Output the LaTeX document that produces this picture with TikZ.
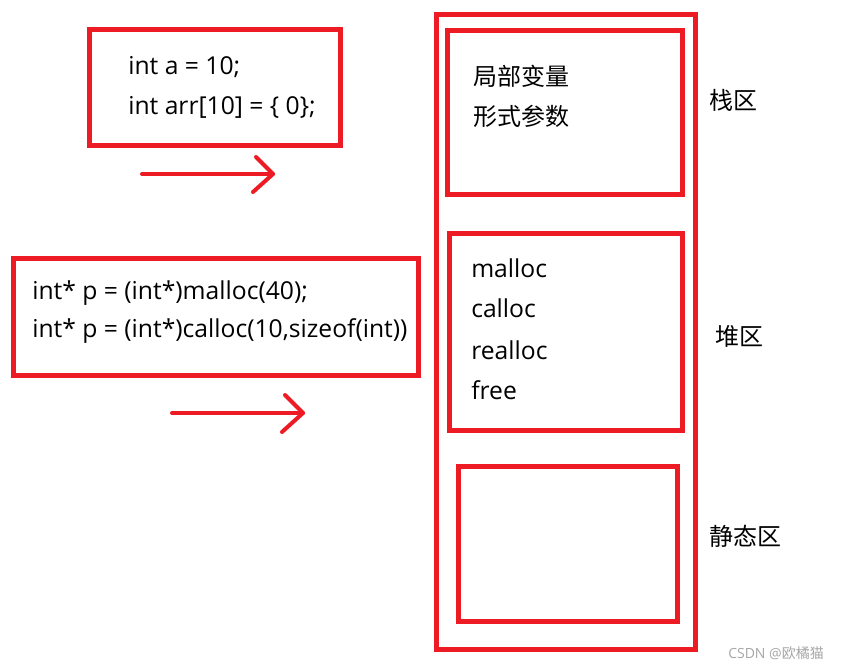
\documentclass[tikz,border=0pt]{standalone}
\usepackage{fontspec}
\setmainfont{Open Sans}
\newfontfamily\cjk{Noto Sans CJK SC}
\usepackage{tikz}
\usetikzlibrary{positioning, calc}

\definecolor{paintred}{RGB}{237,28,36}

\tikzset{
  regionbox/.style={draw=paintred, line width=3.75pt, inner sep=0pt},
  codetext/.style={anchor=base west, inner sep=0pt, font=\fontsize{18.5}{22}\selectfont},
  cjktext/.style={anchor=base west, inner sep=0pt, font=\cjk\fontsize{18}{22}\selectfont},
  arrowline/.style={draw=paintred, line width=3pt, line cap=round, line join=round}
}

\begin{document}
\begin{tikzpicture}[x=0.75pt, y=-0.75pt]
  \useasboundingbox (0,0) rectangle (843,670);

  % Memory regions
  \node[regionbox, minimum width=194.25pt, minimum height=475.9pt] (memory) at (566,331.75) {};
  \node[regionbox, minimum width=176.25pt, minimum height=123pt] (stack) at (565,113) {};
  \node[regionbox, minimum width=175.1pt, minimum height=147pt] (heap) at (565.75,332) {};
  \node[regionbox, minimum width=164.25pt, minimum height=116.6pt] (static) at (568,544.25) {};

  % Code boxes
  \node[regionbox, minimum width=187.9pt, minimum height=87pt] (localcode) at (215.25,88) {};
  \node[regionbox, minimum width=304.1pt, minimum height=88.1pt] (heapcode) at (216.25,317.25) {};

  % Code lines
  \node[codetext] (codea) at (128,75) {int a = 10;};
  \node[codetext] (codearr) at (128,115) {int arr[10] = \{ 0\};};
  \node[codetext] (codemalloc) at (32,300) {int* p = (int*)malloc(40);};
  \node[codetext] (codecalloc) at (32,338) {int* p = (int*)calloc(10,sizeof(int))};

  % Stack contents
  \node[cjktext] (localvar) at (473,85.5) {局部变量};
  \node[cjktext] (params) at (473,125.5) {形式参数};

  % Heap contents
  \node[codetext] (fmalloc) at (471,278) {malloc};
  \node[codetext] (fcalloc) at (471,318) {calloc};
  \node[codetext] (frealloc) at (471,359) {realloc};
  \node[codetext] (ffree) at (471,400) {free};

  % Region labels
  \node[cjktext] (stacklabel) at (709,110) {栈区};
  \node[cjktext] (heaplabel) at (715,346) {堆区};
  \node[cjktext] (staticlabel) at (709,545) {静态区};

  % Arrows
  \coordinate (a1start) at (142,174);
  \coordinate (a1end) at (273,174);
  \coordinate (a2start) at (172,413);
  \coordinate (a2end) at (303,413);
  \draw[arrowline] (a1start) -- (a1end);
  \draw[arrowline] ($(a1end)+(-17,-17)$) -- (a1end) -- ($(a1end)+(-20,18)$);
  \draw[arrowline] (a2start) -- (a2end);
  \draw[arrowline] ($(a2end)+(-18,-18)$) -- (a2end) -- ($(a2end)+(-21,19)$);

  % Watermark
  \node[anchor=base west, inner sep=0pt, text=gray!70, font=\fontsize{10.5}{12}\selectfont] (mark) at (728,658) {CSDN @{\cjk 欧橘猫}};
\end{tikzpicture}
\end{document}
